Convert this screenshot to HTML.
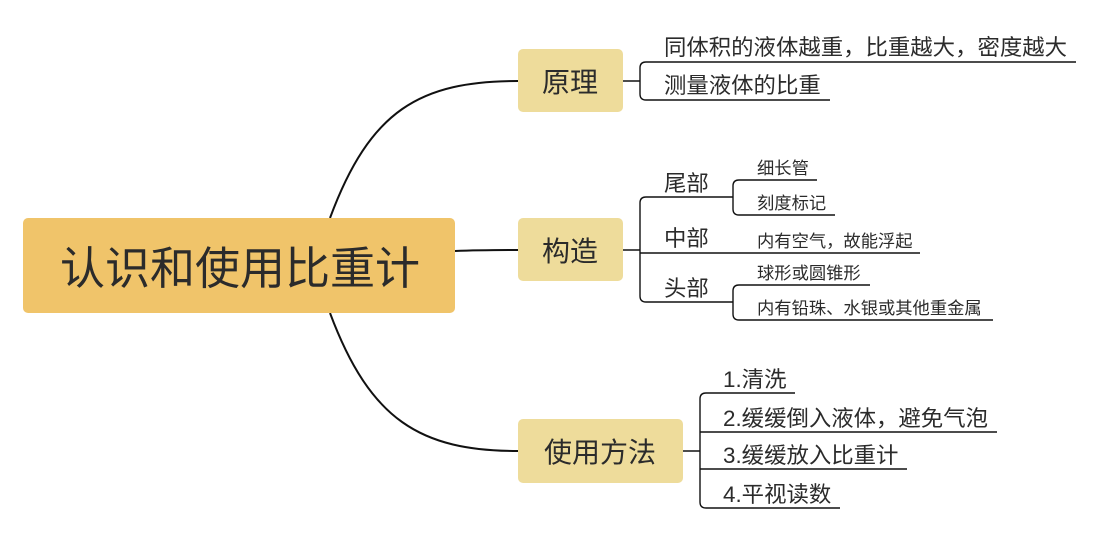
<!DOCTYPE html>
<html><head><meta charset="utf-8"><style>
html,body{margin:0;padding:0;background:#fff;width:1116px;height:560px;overflow:hidden}
text{font-family:"Liberation Sans","Noto Sans CJK SC",sans-serif;fill:#2b2b2b}
</style></head><body>
<svg width="1116" height="560" viewBox="0 0 1116 560" xmlns="http://www.w3.org/2000/svg">
<g fill="none" stroke="#111" stroke-width="2">
<path d="M330 218 C 370 110, 420 81, 518 81"/>
<path d="M455 251 C 480 250, 495 250, 518 250"/>
<path d="M330 313 C 370 420, 420 451, 518 451"/>
</g>
<rect x="23" y="218" width="432" height="95" rx="5" fill="#f0c46a"/>
<text x="240" y="284" font-size="45" text-anchor="middle">认识和使用比重计</text>
<rect x="518" y="49" width="105" height="63" rx="5" fill="#eedc9b"/>
<text x="570" y="92" font-size="28" text-anchor="middle">原理</text>
<rect x="518" y="218" width="105" height="63" rx="5" fill="#eedc9b"/>
<text x="570" y="261" font-size="28" text-anchor="middle">构造</text>
<rect x="518" y="419" width="165" height="64" rx="5" fill="#eedc9b"/>
<text x="600" y="462" font-size="28" text-anchor="middle">使用方法</text>
<g fill="none" stroke="#111" stroke-width="1.4">
<path d="M623 81 H640"/>
<path d="M1076 62 H646 Q640 62 640 68 V94 Q640 100 646 100 H830"/>
<path d="M623 250 H640"/>
<path d="M733 197 H646 Q640 197 640 203 V296 Q640 302 646 302 H733"/>
<path d="M640 253 H920"/>
<path d="M817 180 H739 Q733 180 733 186 V209 Q733 215 739 215 H835"/>
<path d="M870 285 H739 Q733 285 733 291 V314 Q733 320 739 320 H993"/>
<path d="M683 451 H700"/>
<path d="M795 393 H706 Q700 393 700 399 V502 Q700 508 706 508 H840"/>
<path d="M700 432 H997"/>
<path d="M700 469 H907"/>
</g>
<g font-size="22.4">
<text x="664" y="55">同体积的液体越重，比重越大，密度越大</text>
<text x="664" y="93">测量液体的比重</text>
<text x="664" y="191">尾部</text>
<text x="664" y="246">中部</text>
<text x="664" y="296">头部</text>
<text x="723" y="387">1.清洗</text>
<text x="723" y="426">2.缓缓倒入液体，避免气泡</text>
<text x="723" y="463">3.缓缓放入比重计</text>
<text x="723" y="502">4.平视读数</text>
</g>
<g font-size="17.3">
<text x="757" y="174">细长管</text>
<text x="757" y="209">刻度标记</text>
<text x="757" y="247">内有空气，故能浮起</text>
<text x="757" y="279">球形或圆锥形</text>
<text x="757" y="314">内有铅珠、水银或其他重金属</text>
</g>
</svg>
</body></html>
